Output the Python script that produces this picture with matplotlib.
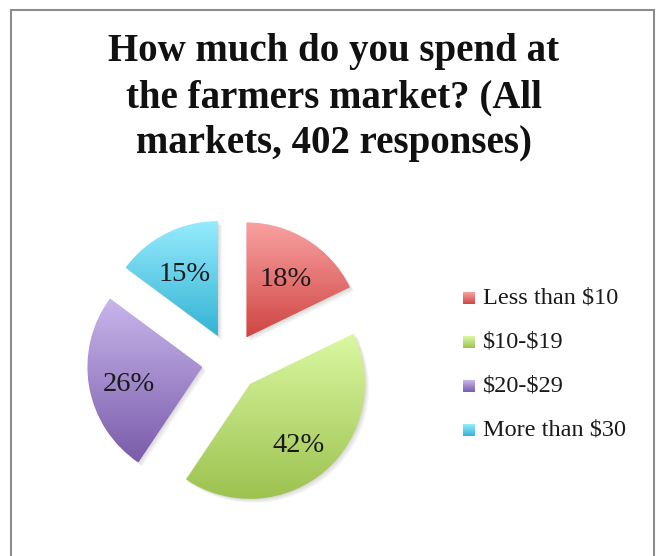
"""
Farmers market spending pie chart (exploded, gradient-filled slices)
"""

import numpy as np
import matplotlib
matplotlib.use('Agg')
import matplotlib.pyplot as plt
from matplotlib.colors import LinearSegmentedColormap
from matplotlib.patches import Rectangle, Wedge

TITLE = "How much do you spend at\nthe farmers market? (All\nmarkets, 402 responses)"
CATEGORIES = ["Less than $10", "$10-$19", "$20-$29", "More than $30"]
SHARES = [18, 42, 26, 15]

# gradient colours (top -> bottom of each slice)
TOP_COLORS = ["#F9A3A2", "#DBF8A2", "#C9B6EC", "#96EBFD"]
BOTTOM_COLORS = ["#CF4543", "#9DC24F", "#7A5CAA", "#33B3D4"]

SERIF = ['Liberation Serif', 'DejaVu Serif']
W, H = 659, 556


def gradient_fill(ax, patch, top, bottom, x0, x1, y0, y1):
    """パッチを縦グラデーションで塗る"""
    cmap = LinearSegmentedColormap.from_list('g', [bottom, top])
    grad = np.linspace(0, 1, 256).reshape(-1, 1)
    im = ax.imshow(grad, cmap=cmap, extent=[x0, x1, y0, y1], origin='lower',
                   aspect='auto', zorder=2, interpolation='bilinear')
    im.set_clip_path(patch)


fig = plt.figure(figsize=(W / 100, H / 100), dpi=100)
ax = fig.add_axes([0, 0, 1, 1])

# pixel-style coordinates: y measured from the bottom
center = (231, H - 362)
radius = 115

# explode is in data units (pixels here)
wedges, texts, autotexts = ax.pie(
    SHARES, explode=[29] * len(SHARES), center=center, radius=radius,
    startangle=90, counterclock=False, autopct='%.0f%%', pctdistance=0.65,
    textprops=dict(family=SERIF, fontsize=20.5, color='#1a1a1a'),
    wedgeprops=dict(linewidth=0))

for w, top, bottom in zip(wedges, TOP_COLORS, BOTTOM_COLORS):
    cx, cy = w.center
    th = np.radians(np.linspace(w.theta1, w.theta2, 200))
    xs = np.concatenate([[cx], cx + w.r * np.cos(th)])
    ys = np.concatenate([[cy], cy + w.r * np.sin(th)])
    # soft shadow
    for k in range(1, 5):
        ax.add_patch(Wedge((cx + k, cy - k), w.r, w.theta1, w.theta2,
                           facecolor='#000000', alpha=0.035, linewidth=0, zorder=1))
    w.set_facecolor('none')
    w.set_zorder(3)
    gradient_fill(ax, w, top, bottom, xs.min(), xs.max(), ys.min(), ys.max())

# ラベルをやや下げる（Excel風の配置に合わせる）
for t in autotexts:
    x, y = t.get_position()
    t.set_position((x, y - 5))
    t.set_zorder(5)

# legend (manual, to keep gradient swatches)
legend_y = [298, 342, 386, 430]
for name, top, bottom, y in zip(CATEGORIES, TOP_COLORS, BOTTOM_COLORS, legend_y):
    sq = Rectangle((463, H - y - 6), 12, 12, facecolor='none', linewidth=0)
    ax.add_patch(sq)
    gradient_fill(ax, sq, top, bottom, 463, 475, H - y - 6, H - y + 6)
    ax.text(483, H - y, name, ha='left', va='center', family=SERIF,
            fontsize=17.5, color='#1a1a1a', zorder=5, parse_math=False)

# title
ax.text(334, H - 33, TITLE, ha='center', va='top', family=SERIF,
        fontsize=28, fontweight='bold', color='#111111', linespacing=1.33)

# chart frame
ax.plot([11, 11, 654, 654], [0, H - 10, H - 10, 0], color='#8c8c8c',
        linewidth=1.5, solid_joinstyle='miter', zorder=6)

ax.set_xlim(0, W)
ax.set_ylim(0, H)
ax.set_aspect('auto')
ax.axis('off')

fig.savefig('out.png', dpi=100)
plt.close(fig)
